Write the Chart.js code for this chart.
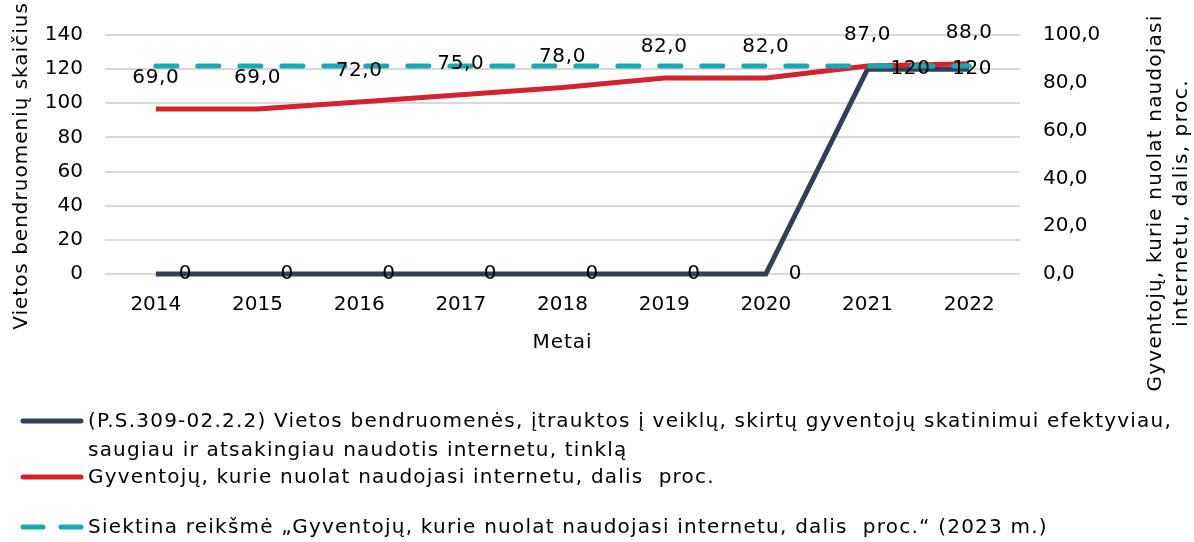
<!DOCTYPE html>
<html>
<head>
<meta charset="utf-8">
<script src="https://cdn.jsdelivr.net/npm/chart.js@4"></script>
<style>
  html, body { margin: 0; padding: 0; background: #fff; }
  body { width: 1194px; height: 542px; position: relative; overflow: hidden; font-family: "DejaVu Sans", sans-serif; }
  #wrap { position: absolute; left: 0; top: 0; width: 1194px; height: 542px; }
  #legend { position: absolute; left: 0; top: 0; width: 1194px; height: 542px; pointer-events: none; }
  .item { position: absolute; left: 19px; display: flex; align-items: flex-start; }
  .item svg { flex: none; margin-top: 1px; }
  .item span { font-size: 20px; letter-spacing: 1.22px; line-height: 29px; color: #000; width: 1098px; margin-left: 3px; white-space: pre-wrap; }
</style>
</head>
<body>
<div id="wrap"><canvas id="grafica"></canvas></div>
<div id="legend"></div>
<script>
// duomenys
const metai = ["2014", "2015", "2016", "2017", "2018", "2019", "2020", "2021", "2022"];
const bendruomenes = [0, 0, 0, 0, 0, 0, 0, 120, 120];
const gyventojai = [69, 69, 72, 75, 78, 82, 82, 87, 88];
const siektina = [87, 87, 87, 87, 87, 87, 87, 87, 87];

const kairesTickai = [0, 20, 40, 60, 80, 100, 120, 140];
const desinesTickai = [0, 20, 40, 60, 80, 100];

const pavadinimai = [
  "(P.S.309-02.2.2) Vietos bendruomenės, įtrauktos į veiklų, skirtų gyventojų skatinimui efektyviau, saugiau ir atsakingiau naudotis internetu, tinklą",
  "Gyventojų, kurie nuolat naudojasi internetu, dalis  proc.",
  "Siektina reikšmė „Gyventojų, kurie nuolat naudojasi internetu, dalis  proc.“ (2023 m.)"
];
const xPavadinimas = "Metai";
const kairesPavadinimas = "Vietos bendruomenių skaičius";
const desinesPavadinimas = ["Gyventojų, kurie nuolat naudojasi", "internetu, dalis, proc."];

const SRIFTAS = "'DejaVu Sans', sans-serif";
const kablelis = v => v.toFixed(1).replace(".", ",");

// zymes ant tasku ir asiu pavadinimai
const zymes = {
  id: "zymes",
  afterDatasetsDraw(chart) {
    const ctx = chart.ctx;
    const ca = chart.chartArea;
    ctx.save();
    ctx.font = "20px " + SRIFTAS;
    ctx.letterSpacing = "0.6px";
    ctx.fillStyle = "#000";
    ctx.textBaseline = "middle";
    chart.data.datasets.forEach((ds, i) => {
      if (!ds.zyme) return;
      const meta = chart.getDatasetMeta(i);
      meta.data.forEach((pt, j) => {
        const v = ds.data[j];
        if (ds.zyme === "right") {
          if (j === meta.data.length - 1) {
            ctx.textAlign = "center";
            ctx.fillText(String(v), pt.x + 3, pt.y);
          } else {
            ctx.textAlign = "left";
            ctx.fillText(String(v), pt.x + 23, pt.y);
          }
        } else {
          ctx.textAlign = "center";
          ctx.fillText(kablelis(v), pt.x, pt.y - 31);
        }
      });
    });

    ctx.letterSpacing = "1px";
    ctx.textAlign = "center";
    // x asies pavadinimas
    ctx.fillText(xPavadinimas, (ca.left + ca.right) / 2, 343);
    // kaires asies pavadinimas
    ctx.save();
    ctx.translate(22, 166);
    ctx.rotate(-Math.PI / 2);
    ctx.fillText(kairesPavadinimas, 0, 0);
    ctx.restore();
    // desines asies pavadinimas (skaitomas is apacios i virsu)
    ctx.save();
    ctx.translate(1169, 203);
    ctx.rotate(-Math.PI / 2);
    ctx.letterSpacing = "1.2px";
    ctx.fillText(desinesPavadinimas[0], 0, -13);
    ctx.letterSpacing = "1.5px";
    ctx.fillText(desinesPavadinimas[1], 0, 13);
    ctx.restore();
    ctx.restore();
  }
};

const chart = new Chart(document.getElementById("grafica").getContext("2d"), {
  type: "line",
  data: {
    labels: metai,
    datasets: [
      {
        label: pavadinimai[0],
        data: bendruomenes,
        yAxisID: "y",
        borderColor: "#323f57",
        borderWidth: 5,
        pointRadius: 0,
        clip: false,
        order: 3,
        zyme: "right"
      },
      {
        label: pavadinimai[1],
        data: gyventojai,
        yAxisID: "y1",
        borderColor: "#d4232e",
        borderWidth: 5,
        pointRadius: 0,
        clip: false,
        order: 2,
        zyme: "above"
      },
      {
        label: pavadinimai[2],
        data: siektina,
        yAxisID: "y1",
        borderColor: "#17a9b5",
        borderWidth: 5,
        borderDash: [21, 21],
        borderCapStyle: "round",
        pointRadius: 0,
        clip: false,
        order: 1
      }
    ]
  },
  options: {
    responsive: true,
    maintainAspectRatio: false,
    animation: false,
    events: [],
    layout: { padding: { top: 33, left: 0, right: 0, bottom: 0 } },
    plugins: { legend: { display: false }, tooltip: { enabled: false } },
    scales: {
      x: {
        offset: true,
        grid: { display: false, drawTicks: false },
        border: { display: false },
        ticks: { color: "#000", font: { family: SRIFTAS, size: 20 }, padding: 19, maxRotation: 0 },
        afterFit(s) { s.height = 542 - 274; }
      },
      y: {
        position: "left",
        min: 0, max: 140,
        afterBuildTicks(s) { s.ticks = kairesTickai.map(v => ({ value: v })); },
        grid: { color: "#d9d9d9", lineWidth: 2, drawTicks: false },
        border: { display: false },
        ticks: { color: "#000", font: { family: SRIFTAS, size: 20 }, padding: 22 },
        afterFit(s) { s.width = 105; }
      },
      y1: {
        position: "right",
        min: 0, max: 100,
        afterBuildTicks(s) { s.ticks = desinesTickai.map(v => ({ value: v })); },
        grid: { display: false, drawTicks: false },
        border: { display: false },
        ticks: { color: "#000", font: { family: SRIFTAS, size: 20 }, padding: 23, callback: v => kablelis(v) },
        afterFit(s) { s.width = 1194 - 1020; }
      }
    }
  },
  plugins: [zymes]
});

// legenda
const legenda = document.getElementById("legend");
const virsus = [406, 462, 512];
chart.data.datasets.forEach((ds, i) => {
  const el = document.createElement("div");
  el.className = "item";
  el.style.top = virsus[i] + "px";
  const dash = ds.borderDash ? 'stroke-dasharray="20 18" ' : "";
  el.innerHTML =
    '<svg width="66" height="28"><line x1="4" y1="14" x2="62" y2="14" stroke="' + ds.borderColor +
    '" stroke-width="5" stroke-linecap="round" ' + dash + '/></svg>';
  const t = document.createElement("span");
  t.textContent = ds.label;
  el.appendChild(t);
  legenda.appendChild(el);
});
</script>
</body>
</html>
